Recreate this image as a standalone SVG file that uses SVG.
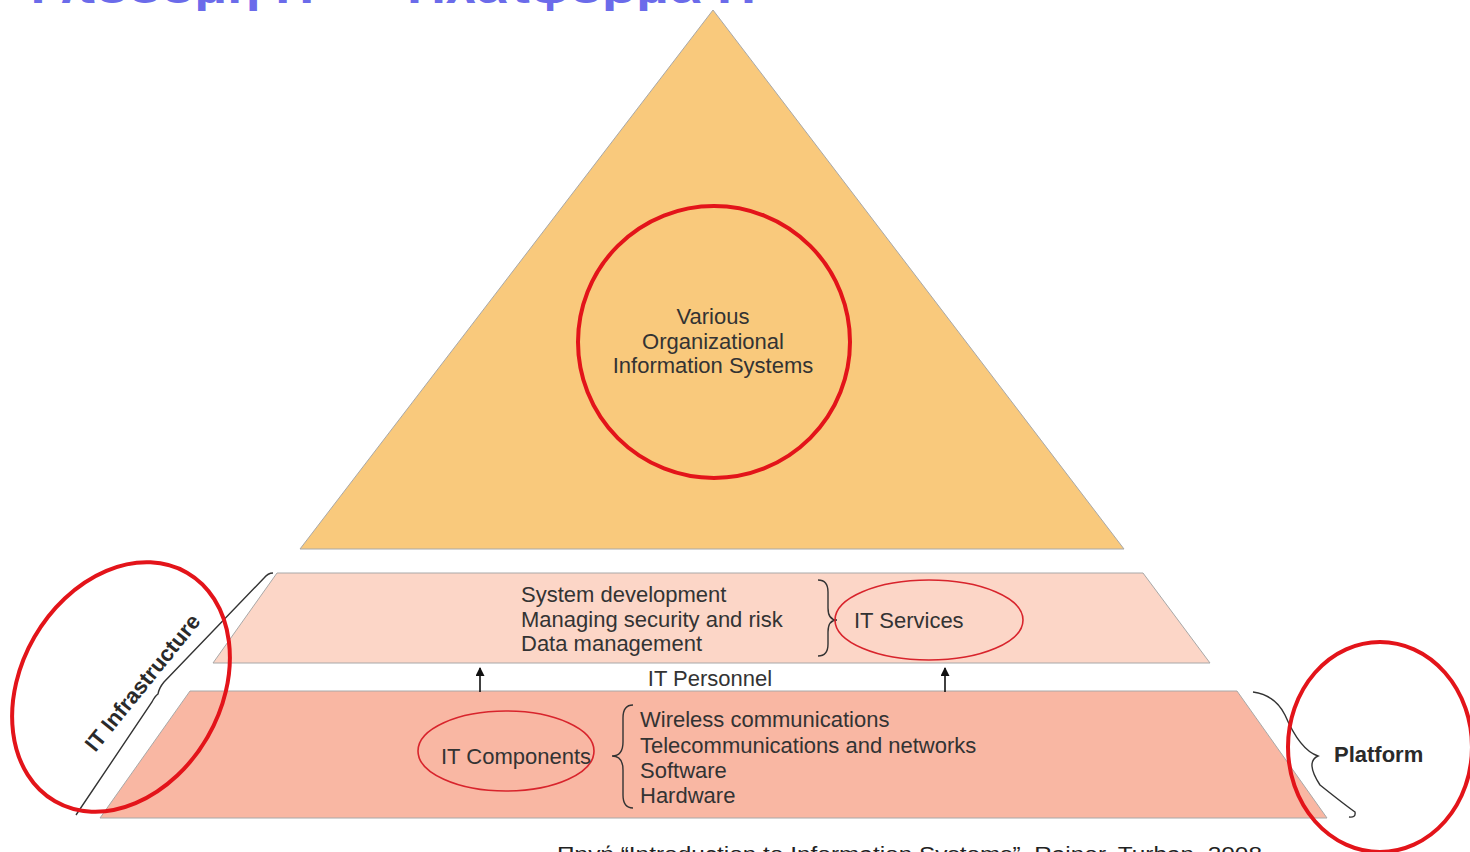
<svg xmlns="http://www.w3.org/2000/svg" width="1470" height="852" viewBox="0 0 1470 852">
  <defs>
    <style>
      .t { font-family: "Liberation Sans", Arial, sans-serif; font-size: 22px; fill: #333; }
      .b { font-weight: bold; fill: #2a2a2a; }
      .ring { fill: none; stroke: #e3141a; stroke-width: 4; }
      .thin { fill: none; stroke: #d8242c; stroke-width: 1.6; }
      .brace { fill: none; stroke: #333; stroke-width: 1.4; }
      .edge { stroke: #a8a8a8; stroke-width: 1; }
    </style>
    <marker id="head" viewBox="0 0 10 10" refX="9" refY="5" markerWidth="11" markerHeight="9" markerUnits="userSpaceOnUse" orient="auto">
      <path d="M0,0 L10,5 L0,10 Z" fill="#111"/>
    </marker>
  </defs>

  <rect width="1470" height="852" fill="#fff"/>

  <!-- slide title, clipped by the top edge -->
  <text x="20" y="2.5" font-family="Liberation Sans, Arial, sans-serif" font-size="38" font-weight="bold" fill="#6b6bea" textLength="745" lengthAdjust="spacingAndGlyphs">Υποδομή ΙΤ — Πλατφόρμα ΙΤ</text>

  <!-- information systems pyramid -->
  <g id="pyramid">
    <polygon points="713,10 300,549 1124,549" fill="#f9c97c" class="edge"/>
    <circle cx="714" cy="342" r="136" class="ring"/>
    <text class="t" text-anchor="middle" x="713" y="324">Various</text>
    <text class="t" text-anchor="middle" x="713" y="349">Organizational</text>
    <text class="t" text-anchor="middle" x="713" y="373">Information Systems</text>
  </g>

  <!-- IT services layer -->
  <g id="it-services">
    <polygon points="277,573 1143,573 1210,663 213,663" fill="#fcd6c7" class="edge"/>
    <text class="t" x="521" y="602">System development</text>
    <text class="t" x="521" y="627">Managing security and risk</text>
    <text class="t" x="521" y="651">Data management</text>
    <path class="brace" d="M818,580 Q828,580 828,592 L828,608 Q828,620 837,620 Q828,620 828,632 L828,644 Q828,656 818,656"/>
    <ellipse cx="929" cy="620" rx="94" ry="40" class="thin"/>
    <text class="t" x="854" y="628">IT Services</text>
  </g>

  <!-- IT personnel band -->
  <g id="it-personnel">
    <text class="t" text-anchor="middle" x="710" y="686">IT Personnel</text>
  </g>

  <!-- IT components layer -->
  <g id="it-components">
    <polygon points="190,691 1237,691 1327,818 100,818" fill="#f9b7a3" class="edge"/>
    <ellipse cx="506" cy="751" rx="88" ry="40" class="thin"/>
    <text class="t" x="441" y="764">IT Components</text>
    <path class="brace" d="M633,705 Q623,705 623,718 L623,742 Q623,756 612,756 Q623,756 623,770 L623,795 Q623,808 633,808"/>
    <text class="t" x="640" y="727">Wireless communications</text>
    <text class="t" x="640" y="753">Telecommunications and networks</text>
    <text class="t" x="640" y="778">Software</text>
    <text class="t" x="640" y="803">Hardware</text>
  </g>

  <!-- IT infrastructure bracket -->
  <g id="it-infrastructure">
    <path class="brace" d="M76,815 L152,702 Q155,696 158,694 Q159,688 164,682 L264,578 Q268,573 273,573"/>
    <text class="t b" transform="translate(143,683) rotate(-51)" text-anchor="middle" y="7">IT Infrastructure</text>
    <ellipse cx="121" cy="687" rx="100" ry="132" transform="rotate(30 121 687)" class="ring"/>
  </g>

  <!-- platform bracket -->
  <g id="platform">
    <path class="brace" d="M1253,692 Q1275,695 1285,715 Q1300,750 1318,756 Q1305,762 1320,785 Q1345,805 1355,812 Q1356,818 1349,817"/>
    <text class="t b" x="1334" y="762">Platform</text>
    <ellipse cx="1380" cy="747" rx="92" ry="105" class="ring"/>
  </g>

  <!-- support arrows between layers -->
  <g id="connectors">
    <line x1="480" y1="692" x2="480" y2="668" stroke="#111" stroke-width="1.6" marker-end="url(#head)"/>
    <line x1="945" y1="692" x2="945" y2="668" stroke="#111" stroke-width="1.6" marker-end="url(#head)"/>
  </g>

  <!-- source line, clipped by the bottom edge -->
  <text x="557" y="861" font-family="Liberation Sans, Arial, sans-serif" font-size="20" fill="#222" textLength="705" lengthAdjust="spacingAndGlyphs">Πηγή “Introduction to Information Systems”, Rainer, Turban, 2008</text>
</svg>
